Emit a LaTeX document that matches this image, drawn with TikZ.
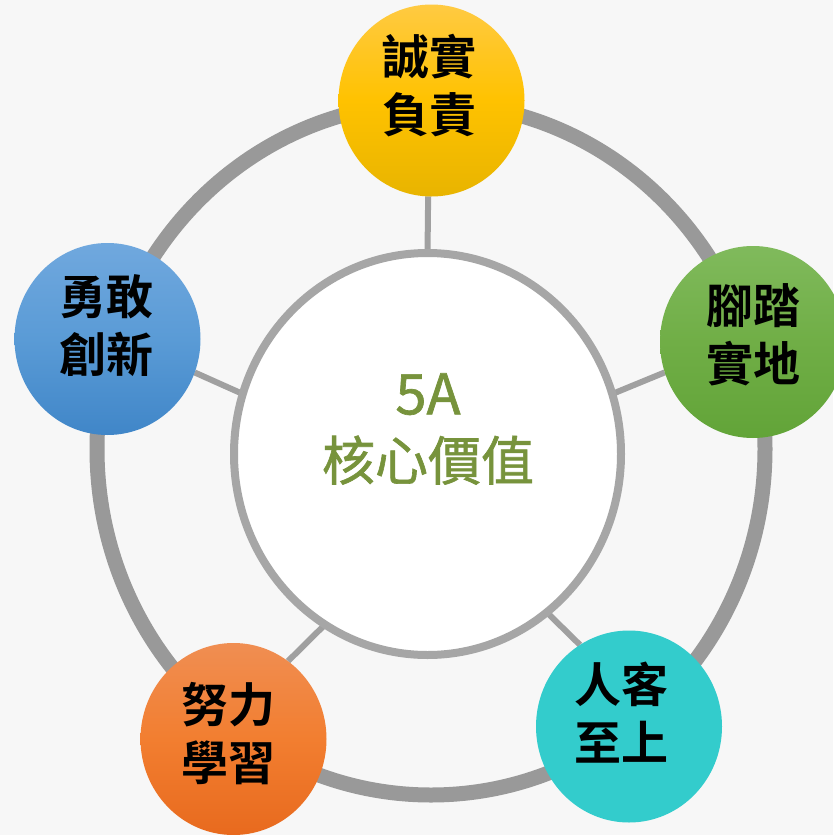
\documentclass[tikz,border=0pt]{standalone}
\usepackage{fontspec}
\newfontfamily\cjk[BoldFont={Noto Sans CJK TC Bold}]{Noto Sans CJK TC}
\newfontfamily\cjkmed[FakeBold=1.2]{Noto Sans CJK TC}
\usetikzlibrary{shapes.geometric}
\pgfdeclarelayer{background}
\pgfsetlayers{background,main}
\definecolor{bgcol}{RGB}{247,247,247}
\definecolor{ringcol}{RGB}{153,153,153}
\definecolor{spokecol}{RGB}{160,160,160}
\definecolor{hubline}{RGB}{166,166,166}
\definecolor{hubtext}{RGB}{119,147,60}
\definecolor{yelT}{RGB}{255,202,66}
\definecolor{yelM}{RGB}{255,194,0}
\definecolor{yelB}{RGB}{232,180,0}
\definecolor{grnT}{RGB}{128,186,92}
\definecolor{grnM}{RGB}{112,174,70}
\definecolor{grnB}{RGB}{98,164,56}
\definecolor{tealc}{RGB}{51,204,204}
\definecolor{orgT}{RGB}{240,142,82}
\definecolor{orgM}{RGB}{242,126,48}
\definecolor{orgB}{RGB}{232,106,30}
\definecolor{bluT}{RGB}{112,168,222}
\definecolor{bluM}{RGB}{90,155,214}
\definecolor{bluB}{RGB}{64,134,200}
\begin{document}
\begin{tikzpicture}[x=1pt,y=-1pt,
  small/.style={ellipse, minimum width=186pt, minimum height=192pt, inner sep=0pt, outer sep=0pt},
  lbl/.style={font=\cjk\bfseries\fontsize{47}{58}\selectfont, align=center, text=black, inner sep=0pt},
  spoke/.style={draw=spokecol, line width=6pt},
  shadeY/.style={top color=yelT, bottom color=yelB, middle color=yelM},
  shadeG/.style={top color=grnT, bottom color=grnB, middle color=grnM},
  shadeO/.style={top color=orgT, bottom color=orgB, middle color=orgM},
  shadeB/.style={top color=bluT, bottom color=bluB, middle color=bluM}]
\useasboundingbox (0,0) rectangle (833,835);
% hub and satellites
\node[ellipse, draw=hubline, fill=white, line width=8pt, minimum width=387pt, minimum height=402pt, inner sep=0pt, outer sep=0pt] (hub) at (427.5,454) {};
\node[small, shadeY] (top) at (431.5,100.5) {};
\node[small, shadeG] (right) at (753,342) {};
\node[small, fill=tealc] (br) at (629,726.5) {};
\node[small, shadeO] (bl) at (233.5,739) {};
\node[small, shadeB] (left) at (107.5,339) {};
\begin{pgfonlayer}{background}
  \fill[bgcol] (0,0) rectangle (833,835);
  \node[ellipse, draw=ringcol, line width=15pt, minimum width=668pt, minimum height=692pt, inner sep=0pt] (ring) at (431,449) {};
  \draw[spoke] (hub.90) -- (top.-92);
  \draw[spoke] (hub.18) -- (right.199);
  \draw[spoke] (hub.-53.5) -- (br.121);
  \draw[spoke] (hub.239) -- (bl.55);
  \draw[spoke] (hub.162) -- (left.-21);
\end{pgfonlayer}
% labels
\node[lbl] (ttop) at (429,86) {誠實\\負責};
\node[lbl] (tright) at (753,335) {腳踏\\實地};
\node[lbl] (tbr) at (621,713) {人客\\至上};
\node[lbl] (tbl) at (228,734) {努力\\學習};
\node[lbl] (tleft) at (106,326) {勇敢\\創新};
\node[font=\cjkmed\fontsize{53}{66}\selectfont, text=hubtext, align=center, inner sep=0pt] (thub) at (428,429) {{\fontsize{56}{66}\selectfont 5A}\\核心價值};
\end{tikzpicture}
\end{document}
